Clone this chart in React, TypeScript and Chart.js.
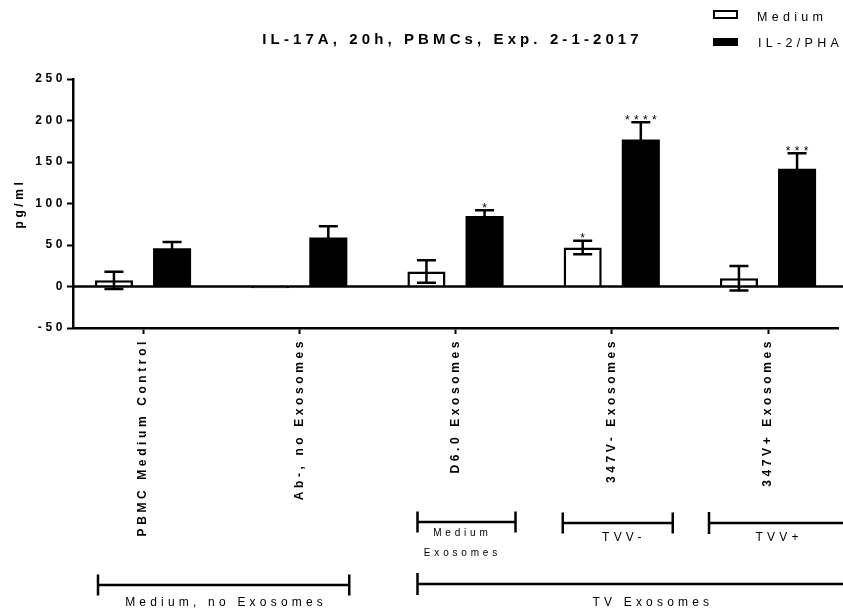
import React, { useEffect, useRef } from 'react';
import { Chart, registerables } from 'chart.js';

Chart.register(...registerables);

const FAMILY = '"Liberation Sans", Arial, Helvetica, sans-serif';

// ---- data ----
const categories = ['PBMC Medium Control', 'Ab-, no Exosomes', 'D6.0 Exosomes', '347V- Exosomes', '347V+ Exosomes'];
const seriesNames = ['Medium', 'IL-2/PHA'];
const mediumMean = [7.5, -2, 18, 47, 10];
const mediumSD = [10.4, 0, 13.5, 8, 14.8];
const il2Mean = [46, 59, 85, 177, 142];
const il2SD = [7.6, 13.6, 6.8, 21, 18.4];
const mediumStars = ['', '', '', '*', ''];
const il2Stars = ['', '', '*', '****', '***'];
const yMin = -50;
const yMax = 250;
const yStep = 50;
const chartTitle = 'IL-17A, 20h, PBMCs, Exp. 2-1-2017';
const yTitle = 'pg/ml';
const groupNames = ['Medium, no Exosomes', 'TV Exosomes', 'Medium\nExosomes', 'TVV-', 'TVV+'];

const errorSets = [mediumSD, il2SD];
const starSets = [mediumStars, il2Stars];

function drawSpaced(
  ctx: CanvasRenderingContext2D,
  text: string,
  x: number,
  y: number,
  font: string,
  spacing: number,
  align: CanvasTextAlign = 'center',
  baseline: CanvasTextBaseline = 'middle'
) {
  ctx.save();
  ctx.font = font;
  (ctx as any).letterSpacing = spacing + 'px';
  ctx.textAlign = align;
  ctx.textBaseline = baseline;
  ctx.fillStyle = '#000';
  // canvas adds spacing after the last glyph too; compensate
  const shift = align === 'center' ? spacing / 2 : align === 'right' ? spacing : 0;
  ctx.fillText(text, x + shift, y);
  ctx.restore();
}

// axis text letter spacing (reset whenever the canvas state is reset)
const spacingPlugin = {
  id: 'axisSpacing',
  beforeUpdate(chart: any) {
    chart.ctx.letterSpacing = '3.6px';
  },
  beforeDraw(chart: any) {
    chart.ctx.letterSpacing = '3.6px';
  },
};

// zero line, SD error bars and significance stars
const errorBarPlugin = {
  id: 'errorBars',
  afterDatasetsDraw(chart: any) {
    const ctx: CanvasRenderingContext2D = chart.ctx;
    const yScale = chart.scales.y;
    const area = chart.chartArea;

    ctx.save();
    ctx.strokeStyle = '#000';
    ctx.lineWidth = 2.5;
    const y0 = yScale.getPixelForValue(0);
    ctx.beginPath();
    ctx.moveTo(area.left, y0);
    ctx.lineTo(chart.width, y0);
    ctx.stroke();

    chart.data.datasets.forEach((ds: any, di: number) => {
      const meta = chart.getDatasetMeta(di);
      const sds = errorSets[di];
      const stars = starSets[di];
      meta.data.forEach((bar: any, i: number) => {
        const v = ds.data[i];
        const sd = sds[i];
        const x = bar.x;
        const top = yScale.getPixelForValue(v + sd);
        const bot = yScale.getPixelForValue(v - sd);
        const half = 9.5;
        if (sd > 0) {
          ctx.beginPath();
          ctx.moveTo(x, top);
          ctx.lineTo(x, bot);
          ctx.moveTo(x - half, top);
          ctx.lineTo(x + half, top);
          ctx.moveTo(x - half, bot);
          ctx.lineTo(x + half, bot);
          ctx.stroke();
        }
        if (stars[i]) {
          drawSpaced(ctx, stars[i], x, top + 1.5, `12px ${FAMILY}`, 4.3, 'center', 'alphabetic');
        }
      });
    });
    ctx.restore();
  },
};

// title, legend and group brackets
const annotationPlugin = {
  id: 'annotations',
  afterDraw(chart: any) {
    const ctx: CanvasRenderingContext2D = chart.ctx;
    const xs = chart.scales.x;
    const W = chart.width;
    const area = chart.chartArea;
    const px = (i: number, d: number) => xs.getPixelForValue(i) + d;

    drawSpaced(ctx, chartTitle, (area.left + area.right) / 2 - 5, 40, `bold 15px ${FAMILY}`, 4.1);

    // legend
    ctx.save();
    ctx.lineWidth = 2;
    ctx.strokeStyle = '#000';
    ctx.fillStyle = '#fff';
    ctx.fillRect(714, 11, 23, 7);
    ctx.strokeRect(714, 11, 23, 7);
    ctx.fillStyle = '#000';
    ctx.fillRect(713, 38, 25, 8);
    ctx.restore();
    drawSpaced(ctx, seriesNames[0], 757, 18, `12.5px ${FAMILY}`, 4.3, 'left');
    drawSpaced(ctx, seriesNames[1], 758, 44, `12.5px ${FAMILY}`, 4.3, 'left');

    const brackets = [
      { name: groupNames[0], x1: px(0, -45), x2: px(1, 50), y: 585, cap: 10.5, tx: px(0, 81), ty: 603 },
      { name: groupNames[1], x1: px(2, -38), x2: W + 5, y: 584, cap: 11, tx: px(3, 39), ty: 603 },
      { name: groupNames[2], x1: px(2, -38), x2: px(2, 60), y: 522, cap: 10.5, tx: px(2, 5), ty: 533 },
      { name: groupNames[3], x1: px(3, -49), x2: px(3, 61), y: 523, cap: 10.5, tx: px(3, 10), ty: 538 },
      { name: groupNames[4], x1: px(4, -59), x2: W + 5, y: 523, cap: 11, tx: px(4, 9), ty: 538 },
    ];
    ctx.save();
    ctx.strokeStyle = '#000';
    ctx.lineWidth = 2.5;
    brackets.forEach((b) => {
      ctx.beginPath();
      ctx.moveTo(b.x1, b.y);
      ctx.lineTo(b.x2, b.y);
      ctx.moveTo(b.x1, b.y - b.cap);
      ctx.lineTo(b.x1, b.y + b.cap);
      if (b.x2 < W) {
        ctx.moveTo(b.x2, b.y - b.cap);
        ctx.lineTo(b.x2, b.y + b.cap);
      }
      ctx.stroke();
    });
    ctx.restore();
    brackets.forEach((b) => {
      const lines = b.name.split('\n');
      const size = lines.length > 1 ? 10 : 12;
      const sp = lines.length > 1 ? 3.8 : 4.2;
      lines.forEach((ln, k) => {
        drawSpaced(ctx, ln, b.tx, b.ty + k * 20, `${size}px ${FAMILY}`, sp);
      });
    });
  },
};

export default function App() {
  const ref = useRef<HTMLCanvasElement>(null);

  useEffect(() => {
    const canvas = ref.current;
    if (!canvas) return;
    const tickFont = { family: FAMILY, size: 12, weight: 'bold' as const };
    const chart = new Chart(canvas, {
      type: 'bar',
      data: {
        labels: categories,
        datasets: [
          {
            label: seriesNames[0],
            data: mediumMean,
            backgroundColor: '#ffffff',
            borderColor: '#000000',
            borderWidth: 2.5,
            borderSkipped: 'start',
          },
          {
            label: seriesNames[1],
            data: il2Mean,
            backgroundColor: '#000000',
            borderColor: '#000000',
            borderWidth: 0,
          },
        ],
      },
      options: {
        responsive: false,
        animation: false,
        devicePixelRatio: 1,
        layout: { padding: { top: 79, right: 5, left: 0, bottom: 0 } },
        categoryPercentage: 0.744,
        barPercentage: 0.655,
        plugins: {
          legend: { display: false },
          tooltip: { enabled: false },
          title: { display: false },
        },
        scales: {
          x: {
            type: 'category',
            offset: true,
            grid: {
              display: true,
              drawOnChartArea: false,
              drawTicks: true,
              tickLength: 6,
              tickWidth: 2,
              tickColor: '#000',
              offset: false,
            },
            border: { display: true, color: '#000', width: 2.5 },
            ticks: {
              autoSkip: false,
              maxRotation: 90,
              minRotation: 90,
              color: '#000',
              font: tickFont,
              padding: 4,
            },
            afterBuildTicks: (scale: any) => {
              scale._startValue = -0.448;
              scale._valueRange = categories.length - 1 + 2 * 0.448;
            },
            afterFit: (scale: any) => {
              scale.height = 285;
            },
          },
          y: {
            min: yMin,
            max: yMax,
            ticks: { stepSize: yStep, color: '#000', font: tickFont, padding: 1 },
            grid: {
              drawOnChartArea: false,
              drawTicks: true,
              tickLength: 6,
              tickWidth: 2,
              tickColor: '#000',
            },
            border: { display: true, color: '#000', width: 2.5 },
            title: {
              display: true,
              text: yTitle,
              color: '#000',
              font: tickFont,
              padding: { top: 12, bottom: 0 },
            },
            afterFit: (scale: any) => {
              scale.width = 73;
            },
          },
        },
      },
      plugins: [spacingPlugin, errorBarPlugin, annotationPlugin],
    } as any);
    return () => chart.destroy();
  }, []);

  return (
    <div style={{ position: 'fixed', left: 0, top: 0, width: 843, height: 613, background: '#fff' }}>
      <canvas ref={ref} width={843} height={613} style={{ display: 'block', width: 843, height: 613 }} />
    </div>
  );
}
